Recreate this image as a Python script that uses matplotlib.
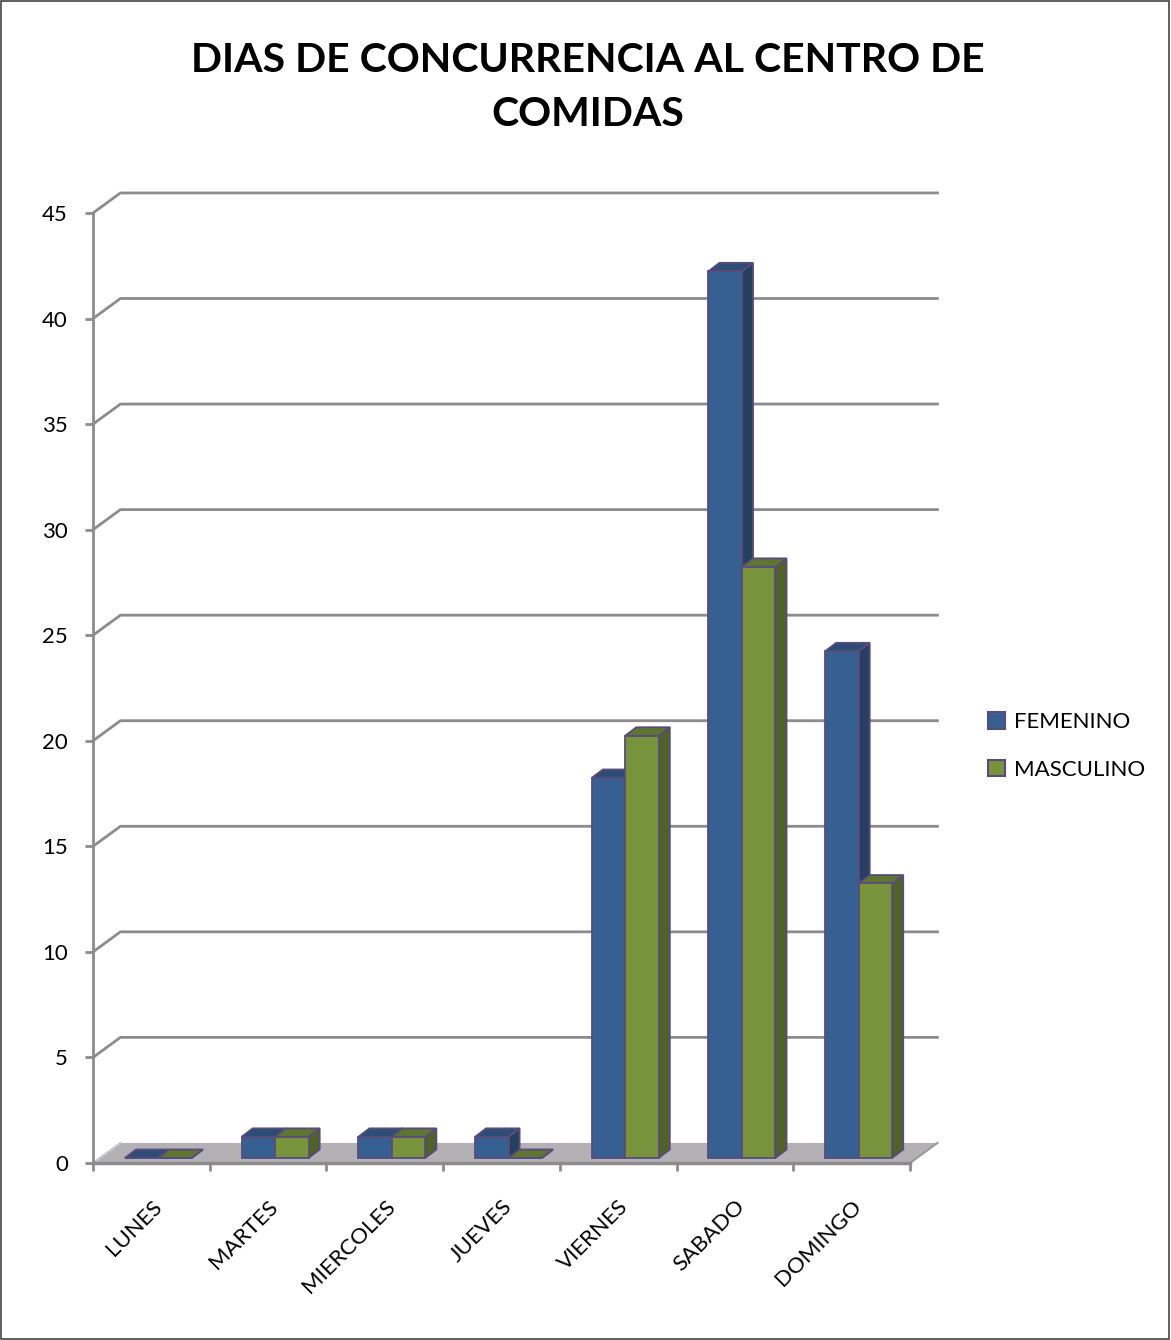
import matplotlib.pyplot as plt
from matplotlib.patches import Polygon, Rectangle, Patch

dias = ['LUNES', 'MARTES', 'MIERCOLES', 'JUEVES', 'VIERNES', 'SABADO', 'DOMINGO']
femenino = [0, 1, 1, 1, 18, 42, 24]
masculino = [0, 1, 1, 0, 20, 28, 13]
series = ['FEMENINO', 'MASCULINO']
yticks = list(range(0, 50, 5))
titulo = ['DIAS DE CONCURRENCIA AL CENTRO DE', 'COMIDAS']

plt.rcParams['font.family'] = ['Lato', 'DejaVu Sans']

fig = plt.figure(figsize=(11.71, 13.40), dpi=100)
ax = fig.add_axes([93 / 1171, 177 / 1340, 817 / 1171, 950 / 1340])
ax.set_xlim(0, len(dias))
ax.set_ylim(0, 45)

# fake 3d: depth of the floor / walls and of the bars (data units)
dx, dy = 0.235, 0.95
ox, oy = 0.06, 0.24
bdx, bdy = 0.095, 0.40
w = 0.287

grid_col = '#8c8c8c'
edge_col = '#5b4a7c'
colores = {
    'FEMENINO': ('#376092', '#243f60', '#2c4d74'),
    'MASCULINO': ('#77933c', '#4f6228', '#5f7631'),
}

# pared del fondo
for v in yticks[1:]:
    ax.plot([0, dx, len(dias) + dx], [v, v + dy, v + dy], color=grid_col,
            lw=2, clip_on=False, zorder=1)

# piso
ax.add_patch(Polygon([(0, 0), (len(dias), 0), (len(dias) + dx, dy), (dx, dy)],
                     closed=True, fc='#b3b1b6', ec='none', clip_on=False, zorder=1.5))
ax.plot([len(dias), len(dias) + dx], [0, dy], color='#9a9a9a', lw=1.5,
        clip_on=False, zorder=1.6)
ax.plot([0, dx], [0, dy], color='#c8c8c8', lw=1.5, clip_on=False, zorder=1.6)


def barra(x0, h, nombre):
    front, side, top = colores[nombre]
    x1 = x0 + w
    y0 = oy
    kw = dict(closed=True, ec=edge_col, lw=1.3, clip_on=False, zorder=3)
    ax.add_patch(Polygon([(x1, y0), (x1 + bdx, y0 + bdy), (x1 + bdx, y0 + h + bdy),
                          (x1, y0 + h)], fc=side, **kw))
    ax.add_patch(Polygon([(x0, y0 + h), (x1, y0 + h), (x1 + bdx, y0 + h + bdy),
                          (x0 + bdx, y0 + h + bdy)], fc=top, **kw))
    ax.add_patch(Polygon([(x0, y0), (x1, y0), (x1, y0 + h), (x0, y0 + h)],
                         fc=front, **kw))


for i in range(len(dias)):
    barra(i + 0.5 - w + ox, femenino[i], 'FEMENINO')
    barra(i + 0.5 + ox, masculino[i], 'MASCULINO')

# ejes
for s in ['top', 'right']:
    ax.spines[s].set_visible(False)
ax.spines['left'].set_color(grid_col)
ax.spines['left'].set_linewidth(2)
ax.spines['bottom'].set_color(grid_col)
ax.spines['bottom'].set_linewidth(2.5)
ax.spines['bottom'].set_zorder(4)

ax.set_yticks(yticks)
ax.tick_params(axis='y', length=6, width=2, color=grid_col, pad=12, labelsize=16)

ax.set_xticks([i + 0.5 for i in range(len(dias))])
ax.set_xticklabels(dias, rotation=45, ha='right', rotation_mode='anchor', fontsize=16)
ax.set_xticks(range(len(dias) + 1), minor=True)
ax.tick_params(axis='x', which='major', length=0, pad=24)
ax.tick_params(axis='x', which='minor', length=6, width=2, color=grid_col)

# titulo en dos lineas
for k, linea in enumerate(titulo):
    fig.text(0.502, 1 - (60 + 55 * k) / 1340, linea, ha='center', va='center',
             fontsize=29.5, fontweight='bold')

handles = [Patch(fc=colores[n][0], ec=edge_col, lw=1.5) for n in series]
fig.legend(handles, series, loc='center left', bbox_to_anchor=(968 / 1171, 1 - 746 / 1340),
           frameon=False, fontsize=16, handlelength=0.75, handleheight=0.75,
           handletextpad=0.4, labelspacing=1.25)

fig.add_artist(Rectangle((0.001, 0.001), 0.997, 0.998, transform=fig.transFigure,
                         fill=False, ec='#444444', lw=1.2))

fig.savefig('out.png', dpi=100)
